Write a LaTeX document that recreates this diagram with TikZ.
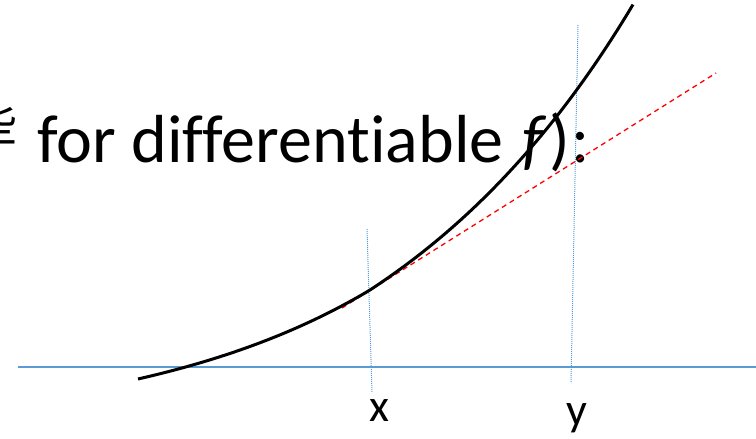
\documentclass[tikz,border=0pt]{standalone}
\usepackage{fontspec}
\setmainfont[Ligatures=NoCommon]{Carlito}
\newfontfamily\cjk{Noto Sans CJK SC}
\definecolor{axisblue}{RGB}{91,155,213}
\definecolor{tanred}{RGB}{255,0,0}
\begin{document}
\begin{tikzpicture}[x=1pt,y=-1pt,
  axisline/.style={axisblue,line width=1.8pt},
  guide/.style={axisblue,line width=1pt,densely dotted},
  tangent/.style={tanred,line width=1.3pt,dash pattern=on 5pt off 4pt},
  curveline/.style={black,line width=3pt,line join=round},
  title/.style={font=\fontsize{68}{72}\selectfont,inner sep=0pt,anchor=base west},
  lbl/.style={font=\fontsize{46}{50}\selectfont,inner sep=0pt,anchor=base}]
\useasboundingbox (0,0) rectangle (756,439);
\clip (0,0) rectangle (756,439);
\node[font=\fontsize{46}{50}\selectfont,inner sep=0pt,anchor=base east] (cj) at (18,141) {\cjk 些};
\node[title] (t) at (37,162) {for differentiable \kern3pt\textit{f}\kern3pt)\kern2pt:};
\draw[axisline] (18,367) coordinate (a0) -- (756,367) coordinate (a1);
\draw[guide] (367,229) coordinate (gx0) -- (372,392) coordinate (gx1);
\draw[guide] (578,25) coordinate (gy0) -- (571,383) coordinate (gy1);
\draw[tangent] (342,308) coordinate (r0) -- (716,73) coordinate (r1);
\draw[curveline] plot[domain=138:370,samples=40] (\x,{379-31*(exp(0.00415*\x)-1.773)})
  -- plot[domain=370:633,samples=50] (\x,{290-48.9*(exp(0.00357*\x)-3.747)});
\node[lbl] (lx) at (379,421) {x};
\node[lbl] (ly) at (577,425) {y};
\end{tikzpicture}
\end{document}
